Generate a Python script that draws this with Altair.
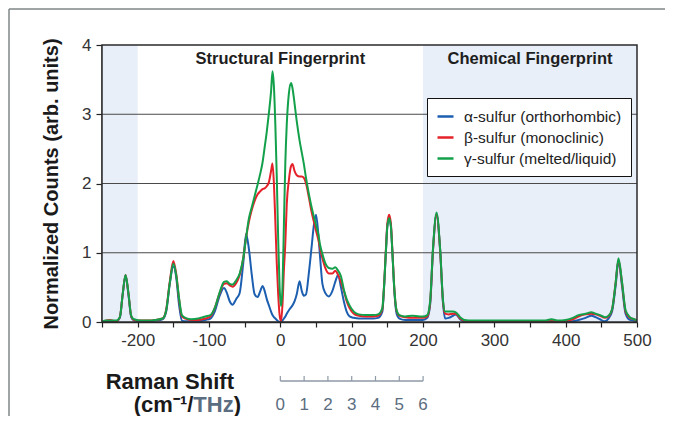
import altair as alt
import pandas as pd

# ---------------- data ----------------
raman_shift = [
    -250, -245, -240, -235, -230, -225, -221, -217, -213, -209,
    -205, -195, -185, -175, -165, -160, -155, -150, -146, -142,
    -138, -133, -125, -115, -105, -98, -92, -85, -79, -75,
    -71, -67, -62, -57, -52, -48, -44, -40, -36, -32,
    -28, -25, -22, -19, -16, -13, -11, -9, -7, -5,
    -3, -1, 1, 3, 5, 7, 9, 12, 15, 17,
    20, 23, 27, 30, 33, 36, 40, 44, 47, 50,
    53, 56, 59, 63, 68, 73, 77, 81, 85, 89,
    93, 97, 103, 110, 120, 130, 137, 143, 145, 148,
    150, 152.5, 155, 157, 160, 163, 167, 175, 185, 195,
    200, 206, 210, 214, 219, 224, 228, 231, 236, 242,
    246, 252, 258, 270, 290, 310, 330, 350, 370, 380,
    390, 400, 410, 418, 428, 436, 442, 448, 455, 460,
    465, 470, 474, 479, 484, 490, 496, 500,
]
alpha_counts = [
    0.00, 0.01, 0.01, 0.01, 0.01, 0.06, 0.40, 0.67, 0.40, 0.07,
    0.02, 0.01, 0.01, 0.02, 0.04, 0.15, 0.55, 0.80, 0.65, 0.25,
    0.02, 0.01, 0.01, 0.01, 0.03, 0.05, 0.15, 0.38, 0.49, 0.42,
    0.30, 0.25, 0.33, 0.42, 0.85, 1.27, 1.05, 0.68, 0.40, 0.36,
    0.45, 0.52, 0.45, 0.33, 0.24, 0.15, 0.10, 0.07, 0.05, 0.03,
    0.01, 0.00, 0.00, 0.02, 0.05, 0.08, 0.12, 0.17, 0.21, 0.24,
    0.30, 0.40, 0.59, 0.45, 0.38, 0.40, 0.71, 1.10, 1.40, 1.55,
    1.30, 0.90, 0.55, 0.42, 0.37, 0.45, 0.58, 0.68, 0.50, 0.30,
    0.15, 0.08, 0.06, 0.05, 0.05, 0.05, 0.06, 0.15, 0.42, 1.02,
    1.38, 1.50, 1.38, 1.02, 0.42, 0.12, 0.05, 0.03, 0.03, 0.03,
    0.03, 0.06, 0.25, 1.04, 1.55, 1.04, 0.28, 0.05, 0.06, 0.09,
    0.11, 0.04, 0.01, 0.01, 0.01, 0.01, 0.01, 0.01, 0.01, 0.01,
    0.01, 0.01, 0.01, 0.03, 0.06, 0.09, 0.07, 0.04, 0.01, 0.05,
    0.15, 0.52, 0.88, 0.52, 0.12, 0.03, 0.02, 0.01,
]
beta_counts = [
    0.00, 0.02, 0.03, 0.02, 0.01, 0.07, 0.40, 0.68, 0.42, 0.08,
    0.03, 0.02, 0.02, 0.03, 0.05, 0.18, 0.58, 0.88, 0.70, 0.33,
    0.08, 0.05, 0.03, 0.03, 0.05, 0.08, 0.20, 0.42, 0.55, 0.56,
    0.53, 0.51, 0.56, 0.68, 0.92, 1.22, 1.45, 1.62, 1.75, 1.84,
    1.89, 1.92, 1.93, 1.96, 2.02, 2.18, 2.29, 2.00, 1.45, 0.85,
    0.40, 0.10, 0.01, 0.25, 0.75, 1.14, 1.70, 2.05, 2.25, 2.28,
    2.18, 2.12, 2.10, 2.10, 2.08, 2.00, 1.80, 1.58, 1.45, 1.32,
    1.20, 1.05, 0.92, 0.78, 0.70, 0.70, 0.74, 0.68, 0.58, 0.45,
    0.30, 0.20, 0.12, 0.09, 0.08, 0.08, 0.09, 0.18, 0.45, 1.05,
    1.42, 1.55, 1.42, 1.05, 0.45, 0.16, 0.09, 0.07, 0.06, 0.06,
    0.06, 0.08, 0.28, 1.04, 1.55, 1.04, 0.30, 0.12, 0.11, 0.12,
    0.12, 0.05, 0.02, 0.01, 0.01, 0.01, 0.01, 0.01, 0.01, 0.02,
    0.01, 0.02, 0.04, 0.08, 0.11, 0.12, 0.11, 0.09, 0.06, 0.08,
    0.18, 0.56, 0.90, 0.56, 0.15, 0.06, 0.04, 0.02,
]
gamma_counts = [
    0.00, 0.02, 0.02, 0.02, 0.02, 0.07, 0.40, 0.68, 0.42, 0.09,
    0.04, 0.02, 0.02, 0.03, 0.05, 0.17, 0.56, 0.84, 0.68, 0.35,
    0.10, 0.06, 0.04, 0.05, 0.08, 0.10, 0.20, 0.43, 0.58, 0.59,
    0.55, 0.54, 0.60, 0.70, 0.92, 1.22, 1.50, 1.66, 1.82, 1.98,
    2.15, 2.30, 2.52, 2.75, 3.02, 3.33, 3.62, 3.40, 2.85, 2.10,
    1.20, 0.50, 0.23, 0.50, 1.40, 2.30, 2.85, 3.30, 3.45, 3.38,
    3.15, 2.90, 2.62, 2.45, 2.28, 2.08, 1.85, 1.65, 1.52, 1.40,
    1.28, 1.10, 0.98, 0.85, 0.78, 0.77, 0.79, 0.74, 0.66, 0.47,
    0.33, 0.24, 0.15, 0.11, 0.10, 0.10, 0.11, 0.20, 0.45, 1.02,
    1.38, 1.50, 1.38, 1.02, 0.45, 0.17, 0.10, 0.08, 0.09, 0.08,
    0.08, 0.10, 0.30, 1.06, 1.58, 1.06, 0.32, 0.15, 0.15, 0.15,
    0.14, 0.07, 0.03, 0.02, 0.02, 0.02, 0.02, 0.02, 0.02, 0.04,
    0.02, 0.03, 0.06, 0.10, 0.12, 0.14, 0.12, 0.10, 0.07, 0.09,
    0.18, 0.56, 0.92, 0.58, 0.17, 0.07, 0.04, 0.02,
]

series_names = ["α-sulfur (orthorhombic)", "β-sulfur (monoclinic)", "γ-sulfur (melted/liquid)"]
series_colors = ["#1c5fb0", "#e52129", "#13a04b"]

y_ticks = [0, 1, 2, 3, 4]
x_ticks = list(range(-250, 501, 50))
grid_levels = [1, 2, 3]
shade_from = [-250, 200]
shade_to = [-200, 500]
region_names = ["Structural Fingerprint", "Chemical Fingerprint"]
region_centres = [0, 350]
thz_ticks = [0, 1, 2, 3, 4, 5, 6]
CM1_PER_THZ = 33.356

# ---------------- layout ----------------
FONT = "Liberation Sans"
W, H = 535, 277
TITLE_SIZE = 22

x_scale = alt.Scale(domain=[-250, 500], nice=False, zero=False)
y_scale = alt.Scale(domain=[0, 4], nice=False, zero=False)
x_axis = alt.Axis(
    values=x_ticks,
    labelExpr="datum.value % 100 == 0 ? '' + datum.value : ''",
    title=None, grid=False, tickSize=5, tickWidth=1.2,
    labelFontSize=17, labelPadding=5, labelColor="#333333",
    tickColor="#222222", domainColor="#222222", domainWidth=1.5,
    labelFlush=False, labelOverlap=False,
)
y_axis = alt.Axis(
    values=y_ticks, format="d", title="Normalized Counts (arb. units)",
    grid=False, tickSize=6, tickWidth=1.2, labelFontSize=17, labelPadding=5,
    labelColor="#333333", titleFontSize=20, titleFontWeight="bold",
    titleColor="#1a1a1a", titlePadding=20, domainColor="#222222",
    domainWidth=2, tickColor="#222222",
)


def X(field):
    return alt.X(field, type="quantitative", scale=x_scale, axis=x_axis)


def Y(field):
    return alt.Y(field, type="quantitative", scale=y_scale, axis=y_axis)


shade_df = pd.DataFrame({"a": shade_from, "b": shade_to, "lo": [0, 0], "hi": [4, 4]})
shade = alt.Chart(shade_df).mark_rect(color="#e8eff8").encode(
    x=X("a"), x2="b", y=Y("lo"), y2="hi"
)

grid = alt.Chart(pd.DataFrame({"g": grid_levels})).mark_rule(
    color="#4a4a4a", strokeWidth=1
).encode(y=Y("g"))

rows = []
for name, vals in zip(series_names, [alpha_counts, beta_counts, gamma_counts]):
    for xv, yv in zip(raman_shift, vals):
        rows.append({"shift": xv, "counts": yv, "series": name})
lines_df = pd.DataFrame(rows)

lines = alt.Chart(lines_df).mark_line(
    strokeWidth=2, interpolate="monotone", clip=True
).encode(
    x=X("shift"),
    y=Y("counts"),
    color=alt.Color(
        "series:N",
        title=None,
        scale=alt.Scale(domain=series_names, range=series_colors),
        legend=alt.Legend(
            orient="none", legendX=325, legendY=53,
            symbolType="stroke", symbolSize=256, symbolStrokeWidth=2.5,
            labelFontSize=15.5, labelFont=FONT, labelColor="#222222",
            labelOffset=9, labelLimit=400, rowPadding=3, padding=9,
            strokeColor="#111111", fillColor="#ffffff", cornerRadius=0,
        ),
    ),
)

frame = alt.Chart(pd.DataFrame({"a": [-250], "b": [500], "lo": [0], "hi": [4]})).mark_rect(
    fillOpacity=0, stroke="#2a2a2a", strokeWidth=1.5
).encode(x=X("a"), x2="b", y=Y("lo"), y2="hi")

regions = alt.Chart(pd.DataFrame({"c": region_centres, "name": region_names})).mark_text(
    font=FONT, fontSize=16.5, fontWeight="bold", color="#1e1e1e", baseline="middle"
).encode(x=X("c"), y=alt.value(14), text="name:N")

one = pd.DataFrame({"k": [0]})


def label(txt, x, y, color="#1a1a1a"):
    return alt.Chart(one).mark_text(
        text=txt, font=FONT, fontSize=TITLE_SIZE, fontWeight="bold",
        color=color, align="right", baseline="alphabetic"
    ).encode(x=alt.value(x), y=alt.value(y))


# right edges of the pieces of the x title (Liberation Sans Bold advance widths)
unit_right = 139
close_w = 0.333 * TITLE_SIZE
thz_w = (0.611 + 0.722 + 0.500) * TITLE_SIZE

raman_title = label("Raman Shift", 132, 344)
unit_open = label("(cm⁻¹/", unit_right - close_w - thz_w, 367)
unit_thz = label("THz", unit_right - close_w, 367, color="#5b6d80")
unit_close = label(")", unit_right, 367)

thz_df = pd.DataFrame({"thz": thz_ticks, "cm": [t * CM1_PER_THZ for t in thz_ticks]})
ruler_line = alt.Chart(pd.DataFrame({"s": [0], "e": [thz_ticks[-1] * CM1_PER_THZ]})).mark_rule(
    color="#8e9aa6", strokeWidth=1.5
).encode(x=X("s"), x2="e", y=alt.value(336))
ruler_ticks = alt.Chart(thz_df).mark_rule(color="#8e9aa6", strokeWidth=1.2).encode(
    x=X("cm"), y=alt.value(331), y2=alt.value(336)
)
ruler_labels = alt.Chart(thz_df).mark_text(
    font=FONT, fontSize=17, color="#5b6d80", baseline="middle"
).encode(x=X("cm"), y=alt.value(360), text="thz:Q")

outer_top = alt.Chart(one).mark_rule(color="#7f8787", strokeWidth=1.5).encode(
    x=alt.value(-93), x2=alt.value(W + 40), y=alt.value(-36)
)
outer_left = alt.Chart(one).mark_rule(color="#7f8787", strokeWidth=1.5).encode(
    x=alt.value(-93), y=alt.value(-36), y2=alt.value(H + 110)
)

chart = alt.layer(
    shade, grid, lines, frame, regions,
    raman_title, unit_open, unit_thz, unit_close,
    ruler_line, ruler_ticks, ruler_labels,
    outer_top, outer_left,
).properties(
    width=W, height=H,
    autosize=alt.AutoSizeParams(type="none"),
    padding={"left": 94, "top": 37, "right": 28, "bottom": 94},
    background="white",
).configure_view(
    strokeWidth=0
).configure_axis(
    labelFont=FONT, titleFont=FONT
).configure_legend(
    labelFont=FONT
)

chart.save("out.html", embed_options={"renderer": "svg", "actions": False})
